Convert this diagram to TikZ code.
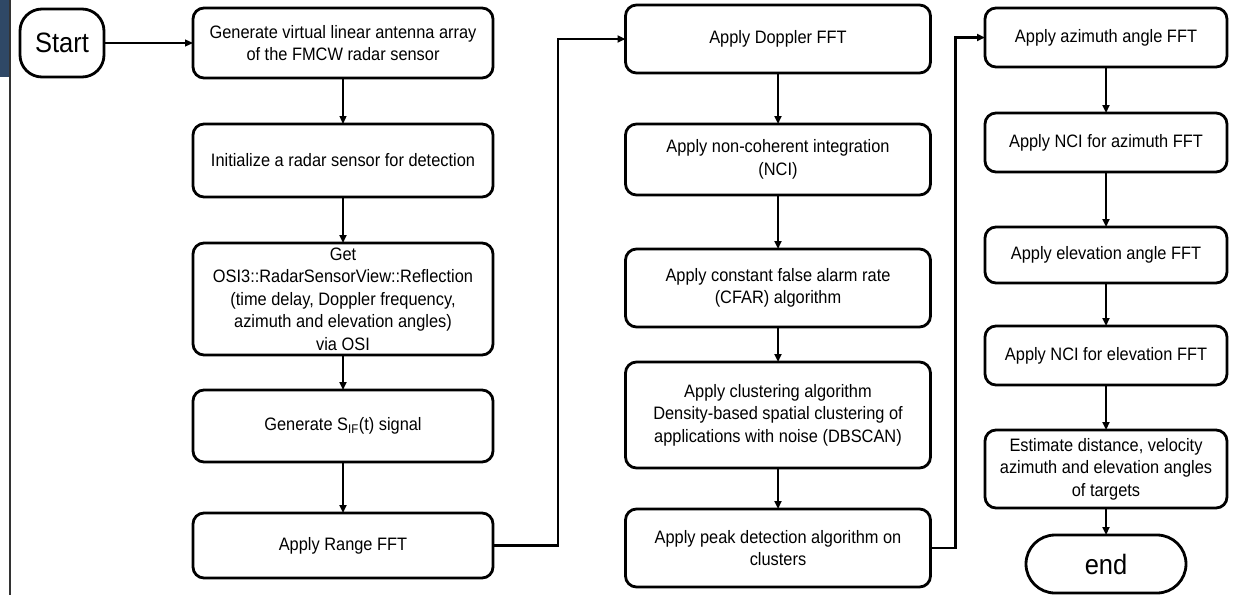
\documentclass[tikz,border=0pt]{standalone}
\usepackage{fontspec}
\setmainfont{Liberation Sans}[FakeStretch=0.91]
\usetikzlibrary{arrows.meta,positioning}
\usepackage{xcolor}
\definecolor{barblue}{RGB}{47,72,102}

\begin{document}
\begin{tikzpicture}[
        x=1pt, y=-1pt,
        node distance=46pt,
        stepbox/.style={rectangle, rounded corners=11pt, draw=black, line width=2.8pt, align=center, inner sep=1pt, outer sep=0pt, font=\fontsize{18}{22.5}\selectfont},
        leftbox/.style={stepbox, minimum width=300pt},
        midbox/.style={stepbox, minimum width=305pt},
        rightbox/.style={stepbox, minimum width=242pt},
        termbox/.style={rectangle, draw=black, line width=2.8pt, inner sep=1pt, outer sep=0pt, font=\fontsize{28}{30}\selectfont},
        arr/.style={-{Triangle[length=8pt,width=7pt]}, line width=2.2pt},
        thinarr/.style={-{Triangle[length=8pt,width=7pt]}, line width=1.2pt},
    ]
        \useasboundingbox (0,0) rectangle (1237,595);

        % Page edge
        \fill[barblue] (0,0) rectangle (9,77);
        \draw[line width=1.2pt, black!80] (10,0) -- (10,595);

        % Start
        \node[termbox, rounded corners=22pt, minimum width=84pt, minimum height=68pt] (start) at (62,43) {Start};

        % First column
        \node[leftbox, minimum height=70pt] (antenna) at (343,43) {Generate virtual linear antenna array\\of the FMCW radar sensor};
        \node[leftbox, minimum height=73pt, below=46pt of antenna] (init) {Initialize a radar sensor for detection};
        \node[leftbox, minimum height=112pt, below=46pt of init] (refl) {Get\\OSI3::RadarSensorView::Reflection\\(time delay, Doppler frequency,\\azimuth and elevation angles)\\via OSI};
        \node[leftbox, minimum height=72pt, below=35pt of refl] (sif) {Generate S\textsubscript{IF}(t) signal};
        \node[leftbox, minimum height=65pt, below=51pt of sif] (range) {Apply Range FFT};

        % Second column
        \node[midbox, minimum height=68pt] (doppler) at (778,39) {Apply Doppler FFT};
        \node[midbox, minimum height=71pt, below=51pt of doppler] (nci) {Apply non-coherent integration\\(NCI)};
        \node[midbox, minimum height=78pt, below=54pt of nci] (cfar) {Apply constant false alarm rate\\(CFAR) algorithm};
        \node[midbox, minimum height=106pt, below=35pt of cfar] (dbscan) {Apply clustering algorithm\\Density-based spatial clustering of\\applications with noise (DBSCAN)};
        \node[midbox, minimum height=78pt, below=41pt of dbscan] (peak) {Apply peak detection algorithm on\\clusters};

        % Third column
        \node[rightbox, minimum height=59pt] (azfft) at (1106,37.5) {Apply azimuth angle FFT};
        \node[rightbox, minimum height=59pt, below=46pt of azfft] (aznci) {Apply NCI for azimuth FFT};
        \node[rightbox, minimum height=56pt, below=55pt of aznci] (elfft) {Apply elevation angle FFT};
        \node[rightbox, minimum height=59pt, below=43pt of elfft] (elnci) {Apply NCI for elevation FFT};
        \node[rightbox, minimum height=78pt, below=45pt of elnci] (estim) {Estimate distance, velocity\\azimuth and elevation angles\\of targets};
        \node[termbox, rounded corners=29pt, minimum width=160pt, minimum height=58pt, below=27pt of estim] (end) {end};

        % Arrows
        \draw[thinarr] (start) -- (antenna);
        \draw[thinarr] (antenna) -- (init);
        \draw[arr] (init) -- (refl);
        \draw[arr] (refl) -- (sif);
        \draw[arr] (sif) -- (range);
        \draw[arr] (range.east) -- ++(65,0) |- (doppler.west);
        \draw[arr] (doppler) -- (nci);
        \draw[arr] (nci) -- (cfar);
        \draw[arr] (cfar) -- (dbscan);
        \draw[arr] (dbscan) -- (peak);
        \draw[arr] (peak.east) -- ++(25,0) |- (azfft.west);
        \draw[arr] (azfft) -- (aznci);
        \draw[arr] (aznci) -- (elfft);
        \draw[arr] (elfft) -- (elnci);
        \draw[arr] (elnci) -- (estim);
        \draw[arr] (estim) -- (end);
    \end{tikzpicture}
\end{document}
